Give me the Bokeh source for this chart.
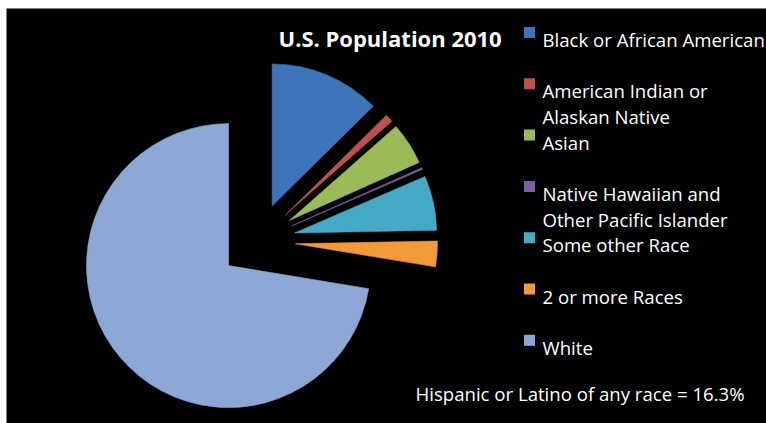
import math
from bokeh.plotting import figure
from bokeh.models import Range1d, ColumnDataSource
from bokeh.core.properties import value
from bokeh.embed import file_html
from bokeh.resources import INLINE

# ---- data ----
title = "U.S. Population 2010"
categories = ["Black or African American", "American Indian or\nAlaskan Native", "Asian",
              "Native Hawaiian and\nOther Pacific Islander", "Some other Race",
              "2 or more Races", "White"]
percent = [12.6, 0.9, 4.8, 0.2, 6.2, 2.9, 72.4]
colors = ["#3e74ba", "#c0504d", "#9abb55", "#7b60a0", "#44aac6", "#f39a38", "#8ea8d6"]
note = "Hispanic or Latino of any race = 16.3%"

# ---- layout (pixels) ----
W, H = 766, 423
LEFT, TOP = 6, 8
FW, FH = W - LEFT, H - TOP
cx, cy = 257 - LEFT, H - 240.5      # pie centre in frame units
R = 142
EXPLODE = 38
FONT = "Open Sans"

p = figure(width=W, height=H, x_range=Range1d(0, FW), y_range=Range1d(0, FH),
           min_border_left=LEFT, min_border_top=TOP, min_border_right=0, min_border_bottom=0,
           background_fill_color="black", border_fill_color="white",
           outline_line_color=None, toolbar_location=None, output_backend="svg")
p.axis.visible = False
p.grid.visible = False

total = sum(percent)
xs, ys, starts, ends = [], [], [], []
cum = 0.0
for v in percent:
    a0 = 90 - cum / total * 360
    a1 = 90 - (cum + v) / total * 360
    mid = math.radians((a0 + a1) / 2)
    xs.append(cx + EXPLODE * math.cos(mid))
    ys.append(cy + EXPLODE * math.sin(mid))
    starts.append(math.radians(a1))
    ends.append(math.radians(a0))
    cum += v

src = ColumnDataSource(dict(x=xs, y=ys, s=starts, e=ends, color=colors))
p.wedge(x="x", y="y", radius=R, start_angle="s", end_angle="e", fill_color="color",
        line_color="color", line_alpha=0.6, source=src)

# title
p.text(x=[278 - LEFT], y=[H - 37], text=[title], text_color="white",
       text_font=value(FONT), text_font_style="bold", text_font_size="22px",
       text_baseline="alphabetic", text_align="left")

# legend
first_base, step, line_gap = 39, 51.3, 26
mx, tx = 529 - LEFT, 542 - LEFT
lx, ly, ltxt, mkx, mky = [], [], [], [], []
for i, lab in enumerate(categories):
    base = first_base + i * step
    mkx.append(mx)
    mky.append(H - (base - 7))
    for j, line in enumerate(lab.split("\n")):
        lx.append(tx)
        ly.append(H - (base + j * line_gap))
        ltxt.append(line)
p.scatter(x=mkx, y=mky, marker="square", size=11, fill_color=colors, line_color=None)
p.text(x=lx, y=ly, text=ltxt, text_color="white", text_font=value(FONT),
       text_font_size="18.6px", text_baseline="alphabetic", text_align="left")

p.text(x=[415 - LEFT], y=[H - 393], text=[note], text_color="white", text_font=value(FONT),
       text_font_size="18.6px", text_baseline="alphabetic", text_align="left")

open("out.html", "w").write(file_html(p, INLINE))
